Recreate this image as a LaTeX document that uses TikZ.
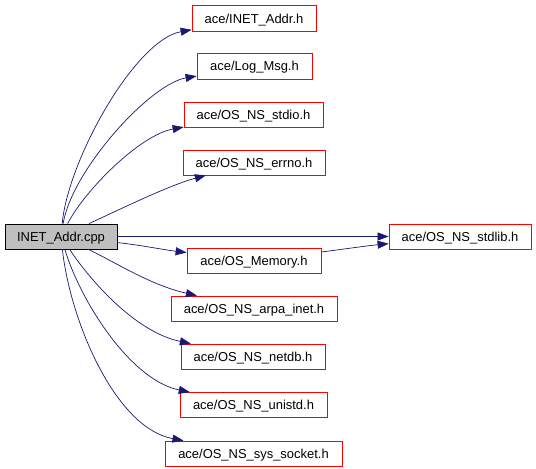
\documentclass[tikz,border=0pt]{standalone}
\usepackage{fontspec}
\setmainfont{Liberation Sans}
\usetikzlibrary{arrows.meta}
\definecolor{rootgray}{RGB}{191,191,191}
\definecolor{edgeblue}{RGB}{25,25,112}
\begin{document}
\begin{tikzpicture}[x=1bp,y=-1bp,
  box/.style={draw=red, line width=0.8bp, inner sep=0pt, minimum height=25bp,
    text height=9.3bp, text depth=0pt, font=\fontsize{13}{15}\selectfont, anchor=center},
  root/.style={box, draw=black, fill=rootgray},
  edge/.style={draw=edgeblue, line width=0.7bp, -{Triangle[length=11bp,width=8bp]}}]
\useasboundingbox (0,0) rectangle (536,469);
\node[root, minimum width=112bp] (main) at (61,236.5) {INET\_Addr.cpp};
\node[box, minimum width=124bp, minimum height=26bp] (inet) at (254,18.5) {ace/INET\_Addr.h};
\node[box, minimum width=115bp, minimum height=26bp] (logmsg) at (254.5,66.3) {ace/Log\_Msg.h};
\node[box, minimum width=139bp] (stdio) at (253.5,114.5) {ace/OS\_NS\_stdio.h};
\node[box, minimum width=142bp] (errno) at (254,162.5) {ace/OS\_NS\_errno.h};
\node[box, minimum width=142bp] (stdlib) at (460,236.5) {ace/OS\_NS\_stdlib.h};
\node[box, minimum width=134bp] (memory) at (254,260.5) {ace/OS\_Memory.h};
\node[box, minimum width=166bp] (arpa) at (254,308.5) {ace/OS\_NS\_arpa\_inet.h};
\node[box, minimum width=144bp] (netdb) at (253,356.5) {ace/OS\_NS\_netdb.h};
\node[box, minimum width=147bp] (unistd) at (253.5,405) {ace/OS\_NS\_unistd.h};
\node[box, minimum width=177bp] (socket) at (253.5,453.5) {ace/OS\_NS\_sys\_socket.h};
\draw[edge] (main) .. controls (68,160) and (135,40) .. (inet);
\draw[edge] (main) .. controls (72,170) and (150,84) .. (logmsg);
\draw[edge] (main) .. controls (85,190) and (140,135) .. (stdio);
\draw[edge] (main) .. controls (125,207) and (170,185) .. (errno);
\draw[edge] (main) -- (stdlib);
\draw[edge] (main) .. controls (140,245) and (165,250) .. (memory);
\draw[edge] (memory) .. controls (345,249) and (365,246) .. (stdlib);
\draw[edge] (main) .. controls (115,262) and (150,285) .. (arpa);
\draw[edge] (main) .. controls (90,280) and (135,332) .. (netdb);
\draw[edge] (main) .. controls (80,300) and (130,380) .. (unistd);
\draw[edge] (main) .. controls (70,320) and (115,428) .. (socket);
\end{tikzpicture}
\end{document}
